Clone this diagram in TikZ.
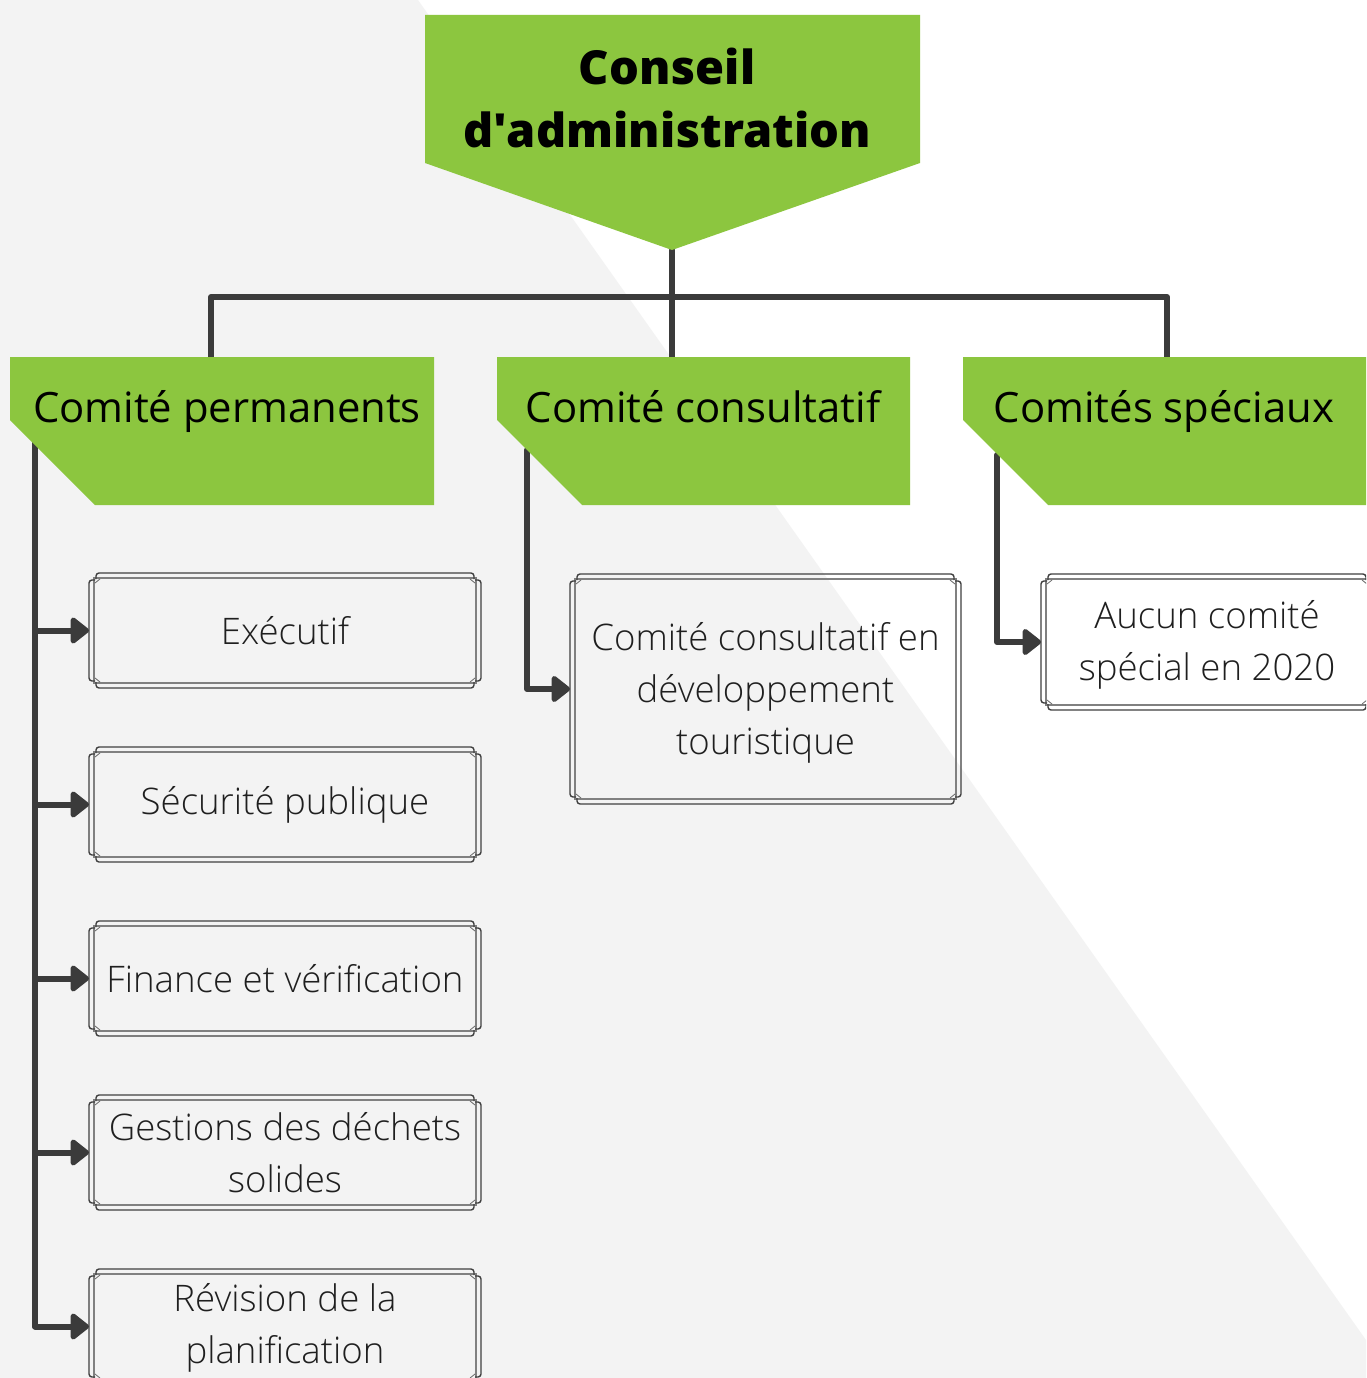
\documentclass[tikz,border=0pt]{standalone}
\usepackage{fontspec}
\usetikzlibrary{arrows.meta}
\setmainfont{Open Sans}
\IfFontExistsTF{Open Sans Light}{\newfontfamily\lightf{Open Sans Light}}{\newfontfamily\lightf{Open Sans}}
\IfFontExistsTF{Open Sans ExtraBold}{\newfontfamily\xboldf{Open Sans ExtraBold}}{%
 \IfFontExistsTF{Open Sans Extrabold}{\newfontfamily\xboldf{Open Sans Extrabold}}{%
  \newfontfamily\xboldf{Open Sans}[UprightFont={* Bold},FakeBold=0.7,UprightFeatures={FakeBold=0.7}]}}
\definecolor{grn}{HTML}{8CC63F}
\definecolor{bgc}{HTML}{F3F3F3}
\definecolor{ink}{HTML}{3B3B3B}
\newcommand\wframe[1]{%
 \draw[inl] ([shift={(5,5)}]#1.north west) rectangle ([shift={(-5,-5)}]#1.south east);
 \draw[outl] ([shift={(7,6)}]#1.north west) -- ([shift={(7,0)}]#1.north west) -- ([shift={(-7,0)}]#1.north east) -- ([shift={(-7,6)}]#1.north east);
 \draw[outl] ([shift={(7,-6)}]#1.south west) -- ([shift={(7,0)}]#1.south west) -- ([shift={(-7,0)}]#1.south east) -- ([shift={(-7,-6)}]#1.south east);
 \draw[outl] ([shift={(6,7)}]#1.north west) -- ([shift={(0,7)}]#1.north west) -- ([shift={(0,-7)}]#1.south west) -- ([shift={(6,-7)}]#1.south west);
 \draw[outl] ([shift={(-6,7)}]#1.north east) -- ([shift={(0,7)}]#1.north east) -- ([shift={(0,-7)}]#1.south east) -- ([shift={(-6,-7)}]#1.south east);
 \draw[tick] ([shift={(6,10)}]#1.north west) -- ([shift={(11,6)}]#1.north west);
 \draw[tick] ([shift={(-6,10)}]#1.north east) -- ([shift={(-11,6)}]#1.north east);
 \draw[tick] ([shift={(6,-10)}]#1.south west) -- ([shift={(11,-6)}]#1.south west);
 \draw[tick] ([shift={(-6,-10)}]#1.south east) -- ([shift={(-11,-6)}]#1.south east);
}
\begin{document}
\begin{tikzpicture}[x=1pt,y=-1pt,
 conn/.style={draw=ink,line width=6pt,line cap=round,line join=round},
 arr/.style={conn,-{Triangle[round,length=20pt,width=30pt]}},
 htext/.style={font=\fontsize{41.8}{50}\selectfont,text=black,inner sep=0pt,anchor=base},
 wbox/.style={minimum width=392pt,minimum height=115pt,inner sep=0pt,outer sep=0pt,align=center,font=\lightf\fontsize{36.6}{52}\selectfont,text=black!88},
 outl/.style={draw=black!75,line width=1.4pt,rounded corners=3pt},
 inl/.style={draw=black!50,line width=1.1pt},
 tick/.style={draw=black!60,line width=0.8pt}]
\useasboundingbox (0,0) rectangle (1366,1378);
\clip (0,0) rectangle (1366,1378);
% background
\fill[white] (0,0) rectangle (1366,1378);
\fill[bgc] (0,0) -- (418,0) -- (1366,1340) -- (1366,1378) -- (0,1378) -- cycle;
% coordinates
\coordinate (tip) at (672,250);
\coordinate (bus) at (672,297);
\coordinate (h1t) at (211,357);
\coordinate (h2t) at (672,357);
\coordinate (h3t) at (1167,357);
\coordinate (t1) at (35,440);
\coordinate (t2) at (527,450);
\coordinate (t3) at (997,455);
% boxes (nodes)
\node[wbox] (b1) at (285,630.5) {Exécutif};
\node[wbox] (b2) at (285,804.5) {Sécurité publique};
\node[wbox] (b3) at (285,978.5) {Finance et vérification};
\node[wbox] (b4) at (285,1152.5) {Gestions des déchets\\solides};
\node[wbox] (b5) at (285,1326.5) {\rule{0pt}{31pt}Révision de la\\planification};
\node[wbox,minimum width=391pt,minimum height=230pt] (c1) at (765.5,689) {\rule{0pt}{35pt}Comité consultatif en\\développement\\touristique};
\node[wbox,minimum width=332pt,minimum height=136pt] (s1) at (1207,642) {\rule{0pt}{34pt}Aucun comité\\spécial en 2020};
\foreach \n in {b1,b2,b3,b4,b5,c1,s1} {\wframe{\n}}
% connectors
\draw[conn] (h1t) |- (bus) -| (h3t);
\draw[conn] (tip) -- (h2t);
\draw[arr] (t1) |- (b5.west);
\foreach \n in {b1,b2,b3,b4} {\draw[arr] (t1 |- \n.west) -- (\n.west);}
\draw[arr] (t2) |- (c1.west);
\draw[arr] (t3) |- (s1.west);
% green shapes
\fill[grn] (425,15) -- (920,15) -- (920,163) -- (tip) -- (425,163) -- cycle;
\fill[grn] (10,357) -- (434,357) -- (434,505) -- (95,505) -- (10,420) -- cycle;
\fill[grn] (497,357) -- (910,357) -- (910,505) -- (582,505) -- (497,420) -- cycle;
\fill[grn] (963,357) -- (1370,357) -- (1370,505) -- (1048,505) -- (963,420) -- cycle;
% texts
\node[font=\xboldf\fontsize{47}{63}\selectfont,align=center,inner sep=0pt] (top) at (667,98) {Conseil\\d\textquotesingle administration};
\node[htext] (h1) at (227,422) {Comité permanents};
\node[htext] (h2) at (703,422) {Comité consultatif};
\node[htext] (h3) at (1164,422) {Comités spéciaux};
\end{tikzpicture}
\end{document}
